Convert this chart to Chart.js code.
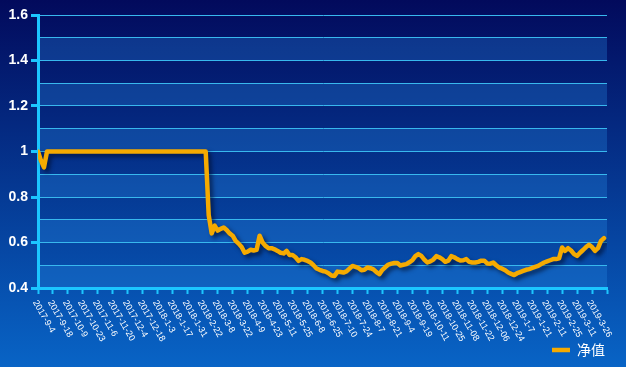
<!DOCTYPE html>
<html>
<head>
<meta charset="utf-8">
<script src="https://cdn.jsdelivr.net/npm/chart.js@4"></script>
<style>
  html, body { margin: 0; padding: 0; background: #0a3a9a; }
  #wrap { width: 626px; height: 367px; position: relative; }
</style>
</head>
<body>
<div id="wrap"><canvas id="navChart"></canvas></div>
<script>
// x tick labels, one every 5 points
const dateLabels = [
    "2017-9-4", "2017-9-18", "2017-10-9", "2017-10-23", "2017-11-6", "2017-11-20",
    "2017-12-4", "2017-12-18", "2018-1-3", "2018-1-17", "2018-1-31", "2018-2-22",
    "2018-3-8", "2018-3-22", "2018-4-9", "2018-4-23", "2018-5-11", "2018-5-25",
    "2018-6-8", "2018-6-25", "2018-7-10", "2018-7-24", "2018-8-7", "2018-8-21",
    "2018-9-4", "2018-9-19", "2018-10-11", "2018-10-25", "2018-11-08", "2018-11-22",
    "2018-12-06", "2018-12-24", "2019-1-7", "2019-1-21", "2019-2-11", "2019-2-25",
    "2019-3-11", "2019-3-26"
];
const pointsPerLabel = 5;

// 净值 series
const navValues = [
    1, 0.96, 0.93, 1, 1, 1, 1, 1, 1, 1,
    1, 1, 1, 1, 1, 1, 1, 1, 1, 1,
    1, 1, 1, 1, 1, 1, 1, 1, 1, 1,
    1, 1, 1, 1, 1, 1, 1, 1, 1, 1,
    1, 1, 1, 1, 1, 1, 1, 1, 1, 1,
    1, 1, 1, 1, 1, 1, 1, 0.72, 0.64, 0.674,
    0.652, 0.66, 0.666, 0.655, 0.64, 0.63, 0.607, 0.595, 0.58, 0.555,
    0.56, 0.568, 0.565, 0.568, 0.63, 0.60, 0.585, 0.575, 0.575, 0.57,
    0.563, 0.555, 0.552, 0.563, 0.545, 0.545, 0.535, 0.519, 0.527, 0.524,
    0.519, 0.512, 0.50, 0.486, 0.48, 0.475, 0.472, 0.465, 0.455, 0.453,
    0.472, 0.47, 0.468, 0.473, 0.485, 0.497, 0.493, 0.488, 0.478, 0.48,
    0.49, 0.487, 0.482, 0.47, 0.461, 0.48, 0.492, 0.503, 0.507, 0.51,
    0.51, 0.499, 0.502, 0.505, 0.513, 0.522, 0.54, 0.549, 0.541, 0.525,
    0.512, 0.517, 0.525, 0.54, 0.535, 0.527, 0.515, 0.52, 0.54, 0.535,
    0.527, 0.521, 0.522, 0.527, 0.515, 0.512, 0.512, 0.515, 0.52, 0.52,
    0.508, 0.507, 0.512, 0.5, 0.49, 0.485, 0.478, 0.468, 0.462, 0.457,
    0.465, 0.47, 0.475, 0.48, 0.483, 0.488, 0.493, 0.497, 0.505, 0.512,
    0.517, 0.522, 0.527, 0.527, 0.53, 0.578, 0.563, 0.575, 0.565, 0.549,
    0.541, 0.555, 0.567, 0.58, 0.59, 0.58, 0.563, 0.575, 0.607, 0.619
];

const yMin = 0.4;
const yMax = 1.6;

const axisColor = '#1cc6ff';

// background gradient + alternating bands
const backdrop = {
    id: 'backdrop',
    beforeDraw(chart) {
        const {ctx, width, height, chartArea: a, scales: {y}} = chart;
        ctx.save();
        const g = ctx.createLinearGradient(0, 0, 0, height);
        g.addColorStop(0, '#020a5c');
        g.addColorStop(1, '#0864c6');
        ctx.fillStyle = g;
        ctx.fillRect(0, 0, width, height);
        ctx.fillStyle = 'rgba(40,140,230,0.3)';
        for (let k = 0; k < 12; k += 2) {
            const top = y.getPixelForValue(yMin + (k + 1) * 0.1);
            const bot = y.getPixelForValue(yMin + k * 0.1);
            ctx.fillRect(a.left, top, a.right - a.left, bot - top);
        }
        ctx.restore();
    }
};

// drop shadow under the line
const lineShadow = {
    id: 'lineShadow',
    beforeDatasetsDraw(chart) {
        const ctx = chart.ctx;
        ctx.save();
        ctx.shadowColor = 'rgba(0,10,40,0.65)';
        ctx.shadowBlur = 4;
        ctx.shadowOffsetX = 3;
        ctx.shadowOffsetY = 3;
    },
    afterDatasetsDraw(chart) {
        chart.ctx.restore();
    }
};

// slanted x labels, reading down-right from each tick
const slantLabels = {
    id: 'slantLabels',
    afterDraw(chart) {
        const {ctx, scales: {x}} = chart;
        ctx.save();
        ctx.fillStyle = '#ffffff';
        ctx.font = '9px Arial, "Liberation Sans"';
        ctx.textAlign = 'left';
        ctx.textBaseline = 'middle';
        dateLabels.forEach((lab, k) => {
            const px = x.getPixelForValue(k * pointsPerLabel);
            ctx.save();
            ctx.translate(px - 3, x.top + 13);
            ctx.rotate(Math.PI / 3);
            ctx.fillText(lab, 0, 0);
            ctx.restore();
        });
        ctx.restore();
    }
};

const ctx = document.getElementById("navChart").getContext("2d");
new Chart(ctx, {
    type: 'line',
    data: {
        datasets: [{
            label: '净值',
            data: navValues.map((v, i) => ({x: i, y: v})),
            borderColor: '#f5aa00',
            backgroundColor: '#f5aa00',
            borderWidth: 4.5,
            borderJoinStyle: 'round',
            borderCapStyle: 'round',
            pointRadius: 0,
            tension: 0,
            fill: false
        }]
    },
    options: {
        responsive: true,
        maintainAspectRatio: false,
        animation: false,
        layout: { padding: { top: 15, right: 19, bottom: 0, left: 0 } },
        plugins: {
            tooltip: { enabled: false },
            legend: {
                position: 'bottom',
                align: 'end',
                labels: {
                    usePointStyle: true,
                    pointStyle: 'line',
                    pointStyleWidth: 18,
                    color: '#ffffff',
                    padding: 2,
                    font: { size: 14, lineHeight: 1, family: '"Noto Sans CJK SC", sans-serif' }
                }
            }
        },
        scales: {
            x: {
                type: 'linear',
                min: 0,
                max: dateLabels.length * pointsPerLabel,
                ticks: {
                    stepSize: pointsPerLabel,
                    autoSkip: false,
                    maxRotation: 0,
                    color: 'rgba(0,0,0,0)',
                    callback: () => ''
                },
                grid: {
                    drawOnChartArea: false,
                    drawTicks: true,
                    tickLength: 6,
                    tickColor: axisColor,
                    tickWidth: 2
                },
                border: { color: axisColor, width: 3 },
                afterFit: s => { s.height = 53; }
            },
            y: {
                min: yMin,
                max: yMax,
                ticks: {
                    stepSize: 0.1,
                    color: '#ffffff',
                    padding: 3,
                    font: { size: 14, weight: 'bold', family: 'Arial, "Liberation Sans"' },
                    callback: (v, i) => i % 2 === 0 ? String(+v.toFixed(1)) : ''
                },
                grid: {
                    color: '#38b8ee',
                    lineWidth: 1,
                    tickLength: 7,
                    tickWidth: 3,
                    tickColor: c => c.index % 2 === 0 ? axisColor : 'rgba(0,0,0,0)'
                },
                border: { color: axisColor, width: 3 },
                afterFit: s => { s.width = 38; }
            }
        }
    },
    plugins: [backdrop, lineShadow, slantLabels]
});
</script>
</body>
</html>
